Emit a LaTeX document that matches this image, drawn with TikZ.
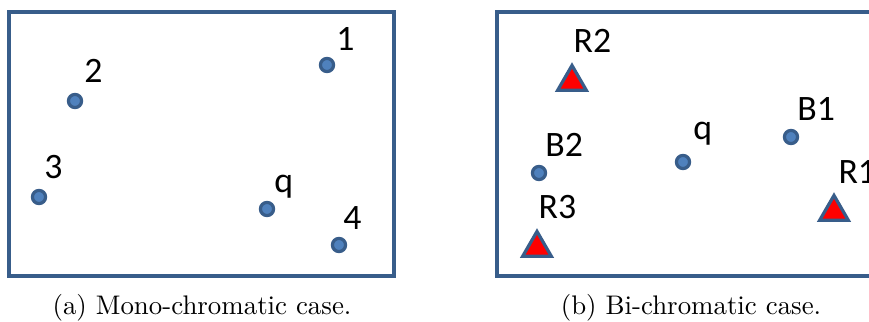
\documentclass[tikz,border=0pt]{standalone}
\usepackage{fontspec}
\usepackage{xcolor}
\usepackage{tikz}
\usetikzlibrary{positioning}
\usetikzlibrary{shapes.geometric}
\newfontfamily\ptfont{Carlito}
\definecolor{ptline}{HTML}{385D8A}
\definecolor{ptfill}{HTML}{4F81BD}

\begin{document}
\begin{tikzpicture}[x=0.372pt, y=-0.372pt]
% Styles:
\tikzset{pnt/.style={circle, draw=ptline, fill=ptfill, line width=1.2pt, minimum size=4.9pt, inner sep=0pt}}
\tikzset{redpnt/.style={regular polygon, regular polygon sides=3, draw=ptline, fill=red, line width=1.2pt, minimum size=12.3pt, inner sep=0pt}}
\tikzset{lbl/.style={font=\ptfont\fontsize{13.3}{15}\selectfont, inner sep=0pt, anchor=south west}}
\tikzset{panel/.style={draw=ptline, line width=1.5pt}}

\clip (0,0) rectangle (869,322);

% Frames:
\draw[panel] (9,12) rectangle (394,276);
\draw[panel] (497,12) rectangle (900,276);

% Mono-chromatic points:
\node[pnt] (m1) at (327,65) {};
\node[pnt] (m2) at (75,101) {};
\node[pnt] (m3) at (39,197) {};
\node[pnt] (mq) at (267,209) {};
\node[pnt] (m4) at (339,245) {};

\node[lbl] (lm1) [above right = 3pt and 1.1pt of m1] {1};
\node[lbl] (lm2) [above right = 4.5pt and 1.1pt of m2] {2};
\node[lbl] (lm3) [above right = 4.5pt and -0.4pt of m3] {3};
\node[lbl] (lmq) [above right = 1.5pt and 0.4pt of mq] {q};
\node[lbl] (lm4) [above right = 3.3pt and -0.7pt of m4] {4};

% Bi-chromatic points:
\node[redpnt] (r2) at (572,82) {};
\node[redpnt] (r1) at (834,212) {};
\node[redpnt] (r3) at (537,248) {};
\node[pnt] (b2) at (539,173) {};
\node[pnt] (bq) at (683,162) {};
\node[pnt] (b1) at (791,137) {};

\node[lbl] (lr2) [above right = 3.3pt and 0.4pt of r2.north] {R2};
\node[lbl] (lr1) [above right = 3pt and 1.5pt of r1.north] {R1};
\node[lbl] (lr3) [above right = 3.3pt and 0.4pt of r3.north] {R3};
\node[lbl] (lb2) [above right = 3.7pt and 0pt of b2] {B2};
\node[lbl] (lbq) [above right = 3.7pt and 1.5pt of bq] {q};
\node[lbl] (lb1) [above right = 3.7pt and 0pt of b1] {B1};

% Captions:
\node (capa) at (202,308) {(a) Mono-chromatic case.};
\node (capb) at (691,308) {(b) Bi-chromatic case.};
\end{tikzpicture}
\end{document}
